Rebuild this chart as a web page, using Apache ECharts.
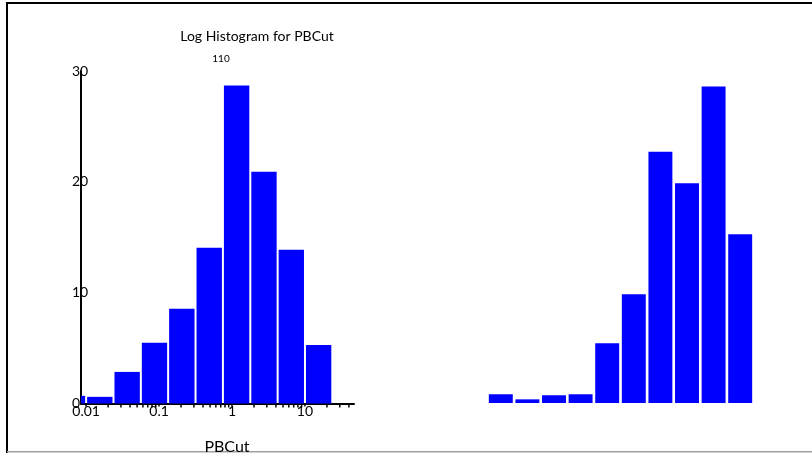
<!DOCTYPE html>
<html>
<head>
<meta charset="utf-8">
<script src="https://cdn.jsdelivr.net/npm/echarts@6/dist/echarts.min.js"></script>
<style>
  html, body { margin: 0; padding: 0; background: #fff; }
  #chart { width: 812px; height: 453px; }
</style>
</head>
<body>
<div id="chart"></div>
<script>
// Log-spaced bin edges for PBCut (each bin spans 0.375 decades)
const binEdges = [0.0042, 0.01, 0.0237, 0.0562, 0.133, 0.316, 0.75, 1.78, 4.22, 10, 23.7];
// Percent of observations falling in each PBCut bin
const pbcutPercent = [0.69, 0.6, 2.85, 5.47, 8.54, 14.05, 28.7, 20.9, 13.87, 5.28];

// Companion histogram drawn on the same vertical scale, without axes
const rightBins = ['1', '2', '3', '4', '5', '6', '7', '8', '9', '10'];
const rightPercent = [0.79, 0.33, 0.7, 0.79, 5.39, 9.82, 22.7, 19.85, 28.6, 15.24];

// Axis settings
const yMax = 30;
const yStep = 10;
const xMin = 0.0085;
const xMax = 47;
const minorTicks = [0.02, 0.03, 0.04, 0.05, 0.06, 0.07, 0.08, 0.09,
                    0.2, 0.3, 0.4, 0.5, 0.6, 0.7, 0.8, 0.9,
                    2, 3, 4, 5, 6, 7, 8, 9,
                    20, 30, 40];

const titleText = 'Log Histogram for PBCut';
const countText = '110';
const xName = 'PBCut';

const FONT = 'Lato, "Open Sans", sans-serif';
const BLUE = '#0000ff';

const binData = pbcutPercent.map((v, i) => [binEdges[i], binEdges[i + 1], v]);

const chart = echarts.init(document.getElementById('chart'), null, { renderer: 'canvas' });

chart.setOption({
  animation: false,
  backgroundColor: '#fff',
  textStyle: { fontFamily: FONT, color: '#000' },
  grid: [
    { left: 81, top: 71, width: 273, height: 332.5, outerBoundsMode: 'none', containLabel: false },
    { left: 487.5, top: 71, width: 266, height: 332, outerBoundsMode: 'none', containLabel: false }
  ],
  xAxis: [
    {
      gridIndex: 0,
      type: 'log',
      logBase: 10,
      min: xMin,
      max: xMax,
      name: xName,
      nameLocation: 'middle',
      nameGap: 35,
      nameTextStyle: { fontSize: 16, fontFamily: FONT, color: '#000', padding: [0, 0, 0, 19] },
      axisLine: { show: true, lineStyle: { color: '#000', width: 2 } },
      axisTick: { show: true, length: 3, lineStyle: { color: '#000', width: 1.5 } },
      axisLabel: {
        fontSize: 14,
        fontFamily: FONT,
        color: '#000',
        margin: 1,
        verticalAlign: 'top',
        showMinLabel: false,
        showMaxLabel: false,
        formatter: v => String(parseFloat(Number(v).toPrecision(6)))
      },
      splitLine: { show: false }
    },
    {
      gridIndex: 1,
      type: 'category',
      data: rightBins,
      show: false
    }
  ],
  yAxis: [
    {
      gridIndex: 0,
      type: 'value',
      min: 0,
      max: yMax,
      interval: yStep,
      axisLine: { show: true, lineStyle: { color: '#000', width: 2 } },
      axisTick: { show: false },
      axisLabel: {
        fontSize: 14,
        fontFamily: FONT,
        color: '#000',
        align: 'left',
        margin: 9
      },
      splitLine: { show: false }
    },
    {
      gridIndex: 1,
      type: 'value',
      min: 0,
      max: yMax,
      show: false,
      splitLine: { show: false }
    }
  ],
  series: [
    {
      // histogram bars spanning each log bin
      type: 'custom',
      xAxisIndex: 0,
      yAxisIndex: 0,
      data: binData,
      encode: { x: [0, 1], y: 2 },
      itemStyle: { color: BLUE },
      silent: true,
      renderItem: function (params, api) {
        const p0 = api.coord([api.value(0), 0]);
        const p1 = api.coord([api.value(1), api.value(2)]);
        const cs = params.coordSys;
        const rect = echarts.graphic.clipRectByRect(
          { x: p0[0] + 1, y: p1[1], width: p1[0] - p0[0] - 2, height: p0[1] - p1[1] },
          { x: cs.x, y: cs.y, width: cs.width, height: cs.height }
        );
        return rect && { type: 'rect', shape: rect, style: { fill: BLUE } };
      }
    },
    {
      // minor log ticks under the x axis
      type: 'custom',
      xAxisIndex: 0,
      yAxisIndex: 0,
      data: minorTicks.map(v => [v, 0]),
      encode: { x: 0, y: 1 },
      silent: true,
      z: 5,
      renderItem: function (params, api) {
        const p = api.coord([api.value(0), 0]);
        return {
          type: 'line',
          shape: { x1: p[0], y1: p[1] + 1, x2: p[0], y2: p[1] + 4 },
          style: { stroke: '#000', lineWidth: 1.5 }
        };
      }
    },
    {
      type: 'bar',
      xAxisIndex: 1,
      yAxisIndex: 1,
      data: rightPercent,
      barCategoryGap: '10%',
      itemStyle: { color: BLUE },
      silent: true
    }
  ],
  graphic: [
    { type: 'rect', shape: { x: 6, y: 2, width: 806, height: 2 }, style: { fill: '#000' }, silent: true },
    { type: 'rect', shape: { x: 6, y: 2, width: 2, height: 451 }, style: { fill: '#000' }, silent: true },
    { type: 'rect', shape: { x: 7, y: 451, width: 805, height: 1.5 }, style: { fill: '#a0a0a0' }, silent: true },
    {
      type: 'text', x: 257, y: 36, silent: true,
      style: { text: titleText, font: '14px ' + FONT, fill: '#000', align: 'center', verticalAlign: 'middle' }
    },
    {
      type: 'text', x: 221, y: 59, silent: true,
      style: { text: countText, font: '10px ' + FONT, fill: '#000', align: 'center', verticalAlign: 'middle' }
    }
  ]
});
</script>
</body>
</html>
